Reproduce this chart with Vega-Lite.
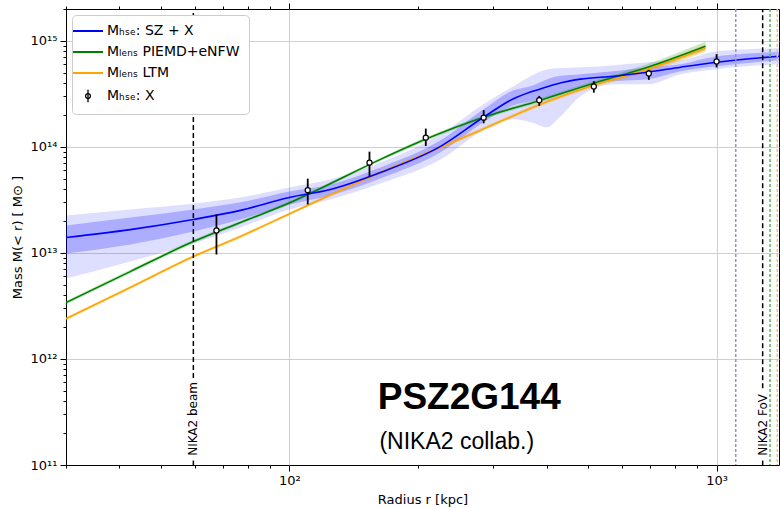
{
  "$schema": "https://vega.github.io/schema/vega-lite/v6.json",
  "width": 713,
  "height": 456,
  "autosize": {"type": "none"},
  "padding": {"left": 66, "top": 9, "right": 1, "bottom": 43},
  "background": "white",
  "config": {
    "view": {"stroke": "black", "strokeWidth": 1},
    "axis": {"labelFont": "DejaVu Sans", "titleFont": "DejaVu Sans", "labelColor": "black", "titleColor": "black", "tickColor": "black", "titleFontWeight": "normal"}
  },
  "datasets": {
    "blue": [
      {"r": 30, "m": 1.40e13, "hi1": 1.82e13, "lo1": 9.87e12, "hi2": 2.26e13, "lo2": 5.73e12},
      {"r": 42.4, "m": 1.66e13, "hi1": 2.16e13, "lo1": 1.20e13, "hi2": 2.57e13, "lo2": 8.30e12},
      {"r": 59.6, "m": 2.07e13, "hi1": 2.57e13, "lo1": 1.59e13, "hi2": 2.93e13, "lo2": 1.23e13},
      {"r": 76.8, "m": 2.52e13, "hi1": 3.00e13, "lo1": 2.07e13, "hi2": 3.34e13, "lo2": 1.74e13},
      {"r": 100, "m": 3.34e13, "hi1": 3.80e13, "lo1": 2.87e13, "hi2": 4.15e13, "lo2": 2.57e13},
      {"r": 124.7, "m": 3.97e13, "hi1": 4.43e13, "lo1": 3.49e13, "hi2": 4.94e13, "lo2": 3.20e13},
      {"r": 163.4, "m": 5.75e13, "hi1": 6.41e13, "lo1": 5.05e13, "hi2": 7.15e13, "lo2": 4.53e13},
      {"r": 225.8, "m": 1.013e14, "hi1": 1.155e14, "lo1": 8.89e13, "hi2": 1.32e14, "lo2": 7.63e13},
      {"r": 284.7, "m": 1.905e14, "hi1": 2.27e14, "lo1": 1.71e14, "hi2": 2.53e14, "lo2": 1.44e14},
      {"r": 334.6, "m": 2.85e14, "hi1": 3.43e14, "lo1": 2.47e14, "hi2": 3.74e14, "lo2": 1.82e14},
      {"r": 366.7, "m": 3.30e14, "hi1": 3.74e14, "lo1": 2.70e14, "hi2": 4.65e14, "lo2": 1.71e14},
      {"r": 402, "m": 3.70e14, "hi1": 4.36e14, "lo1": 2.94e14, "hi2": 5.41e14, "lo2": 1.53e14},
      {"r": 424.3, "m": 3.95e14, "hi1": 4.65e14, "lo1": 3.07e14, "hi2": 5.53e14, "lo2": 1.82e14},
      {"r": 480.2, "m": 4.36e14, "hi1": 4.86e14, "lo1": 3.74e14, "hi2": 5.65e14, "lo2": 3.01e14},
      {"r": 573.9, "m": 4.65e14, "hi1": 5.18e14, "lo1": 4.17e14, "hi2": 5.91e14, "lo2": 3.91e14},
      {"r": 689.3, "m": 5.07e14, "hi1": 5.65e14, "lo1": 4.36e14, "hi2": 6.30e14, "lo2": 3.91e14},
      {"r": 823.6, "m": 5.65e14, "hi1": 6.04e14, "lo1": 5.18e14, "hi2": 6.58e14, "lo2": 4.86e14},
      {"r": 1000, "m": 6.30e14, "hi1": 7.18e14, "lo1": 5.78e14, "hi2": 8.01e14, "lo2": 5.41e14},
      {"r": 1400, "m": 7.18e14, "hi1": 7.84e14, "lo1": 6.58e14, "hi2": 8.55e14, "lo2": 6.04e14}
    ],
    "green": [
      {"r": 30, "m": 3.40e12, "lo": 3.25e12, "hi": 3.55e12},
      {"r": 42.4, "m": 6.67e12, "lo": 6.40e12, "hi": 6.95e12},
      {"r": 59.6, "m": 1.28e13, "lo": 1.23e13, "hi": 1.33e13},
      {"r": 76.8, "m": 1.94e13, "lo": 1.87e13, "hi": 2.01e13},
      {"r": 100.5, "m": 2.99e13, "lo": 2.88e13, "hi": 3.10e13},
      {"r": 118.2, "m": 4.06e13, "lo": 3.92e13, "hi": 4.20e13},
      {"r": 163.4, "m": 7.63e13, "lo": 7.35e13, "hi": 7.90e13},
      {"r": 208.2, "m": 1.18e14, "lo": 1.13e14, "hi": 1.23e14},
      {"r": 284.7, "m": 1.905e14, "lo": 1.83e14, "hi": 1.98e14},
      {"r": 387, "m": 2.76e14, "lo": 2.64e14, "hi": 2.89e14},
      {"r": 507, "m": 3.91e14, "lo": 3.70e14, "hi": 4.12e14},
      {"r": 689, "m": 5.65e14, "lo": 5.25e14, "hi": 6.05e14},
      {"r": 942, "m": 8.93e14, "lo": 8.10e14, "hi": 9.80e14}
    ],
    "orange": [
      {"r": 30, "m": 2.40e12, "lo": 2.32e12, "hi": 2.48e12},
      {"r": 42.4, "m": 4.73e12, "lo": 4.57e12, "hi": 4.89e12},
      {"r": 59.6, "m": 9.25e12, "lo": 8.95e12, "hi": 9.55e12},
      {"r": 76.8, "m": 1.43e13, "lo": 1.38e13, "hi": 1.48e13},
      {"r": 100.5, "m": 2.36e13, "lo": 2.28e13, "hi": 2.44e13},
      {"r": 118.2, "m": 3.20e13, "lo": 3.09e13, "hi": 3.31e13},
      {"r": 163.4, "m": 5.75e13, "lo": 5.55e13, "hi": 5.95e13},
      {"r": 225.8, "m": 9.91e13, "lo": 9.55e13, "hi": 1.027e14},
      {"r": 284.7, "m": 1.48e14, "lo": 1.42e14, "hi": 1.54e14},
      {"r": 387, "m": 2.53e14, "lo": 2.42e14, "hi": 2.64e14},
      {"r": 507, "m": 3.74e14, "lo": 3.55e14, "hi": 3.93e14},
      {"r": 689, "m": 5.41e14, "lo": 5.05e14, "hi": 5.78e14},
      {"r": 942, "m": 8.55e14, "lo": 7.85e14, "hi": 9.30e14}
    ],
    "xray": [
      {"r": 67.5, "m": 1.63e13, "lo": 9.66e12, "hi": 2.31e13},
      {"r": 110.4, "m": 3.91e13, "lo": 2.87e13, "hi": 5.02e13},
      {"r": 154, "m": 7.11e13, "lo": 5.24e13, "hi": 9.03e13},
      {"r": 208.6, "m": 1.224e14, "lo": 1.02e14, "hi": 1.49e14},
      {"r": 285, "m": 1.89e14, "lo": 1.67e14, "hi": 2.22e14},
      {"r": 384.5, "m": 2.76e14, "lo": 2.44e14, "hi": 3.03e14},
      {"r": 516, "m": 3.72e14, "lo": 3.25e14, "hi": 4.17e14},
      {"r": 694, "m": 4.93e14, "lo": 4.29e14, "hi": 5.33e14},
      {"r": 1000, "m": 6.40e14, "lo": 5.62e14, "hi": 7.50e14}
    ],
    "blacklines": [
      {"r": 59.6, "lo": 6.62e11, "hi": 2e15},
      {"r": 59.6, "lo": 1e11, "hi": 1.1e11},
      {"r": 1282, "lo": 5.3e11, "hi": 2e15},
      {"r": 1282, "lo": 1e11, "hi": 1.1e11}
    ],
    "r500": [
      {"r": 1109, "kind": "HSE"},
      {"r": 1334, "kind": "PIEMD+eNFW"},
      {"r": 1387, "kind": "LTM"}
    ],
    "vlabels": [
      {"r": 59.6, "m": 1.22e11, "t": "NIKA2 beam"},
      {"r": 1282, "m": 1.22e11, "t": "NIKA2 FoV"}
    ]
  },
  "resolve": {"axis": {"x": "independent", "y": "independent"}},
  "layer": [
    {
      "data": {"name": "blue"},
      "mark": {"type": "area", "color": "#0000ff", "opacity": 0.13, "interpolate": "monotone", "clip": true},
      "encoding": {
        "x": {"field": "r", "type": "quantitative", "scale": {"type": "log", "domain": [30, 1400], "nice": false},
          "axis": {"orient": "bottom", "title": "Radius r [kpc]", "titleFontSize": 13, "labelFontSize": 13, "titlePadding": 6, "labelPadding": 3,
            "values": [30, 40, 50, 60, 70, 80, 90, 100, 200, 300, 400, 500, 600, 700, 800, 900, 1000],
            "labelExpr": "datum.value == 100 ? '10²' : datum.value == 1000 ? '10³' : ''",
            "labelOverlap": false, "labelFlush": false, "domain": false,
            "tickSize": {"condition": {"test": "datum.value == 100 || datum.value == 1000", "value": 6}, "value": 3},
            "gridColor": "#cfcfcf", "gridWidth": 1,
            "gridOpacity": {"condition": {"test": "datum.value == 100 || datum.value == 1000", "value": 1}, "value": 0}}},
        "y": {"field": "lo2", "type": "quantitative", "scale": {"type": "log", "domain": [1e11, 2e15], "nice": false},
          "axis": {"orient": "left", "title": "Mass M(< r) [ M⊙ ]", "titleFontSize": 13, "labelFontSize": 13, "titlePadding": 6, "labelPadding": 3,
            "values": [2e11, 3e11, 4e11, 5e11, 6e11, 7e11, 8e11, 9e11, 1e11, 1e12, 2e12, 3e12, 4e12, 5e12, 6e12, 7e12, 8e12, 9e12, 1e13, 2e13, 3e13, 4e13, 5e13, 6e13, 7e13, 8e13, 9e13, 1e14, 2e14, 3e14, 4e14, 5e14, 6e14, 7e14, 8e14, 9e14, 1e15, 2e15],
            "labelExpr": "datum.value == 1e11 ? '10¹¹' : datum.value == 1e12 ? '10¹²' : datum.value == 1e13 ? '10¹³' : datum.value == 1e14 ? '10¹⁴' : datum.value == 1e15 ? '10¹⁵' : ''",
            "labelOverlap": false, "labelFlush": false, "domain": false,
            "tickSize": {"condition": {"test": "datum.value == 1e11 || datum.value == 1e12 || datum.value == 1e13 || datum.value == 1e14 || datum.value == 1e15", "value": 6}, "value": 3},
            "gridColor": "#cfcfcf", "gridWidth": 1,
            "gridOpacity": {"condition": {"test": "datum.value == 1e12 || datum.value == 1e13 || datum.value == 1e14 || datum.value == 1e15", "value": 1}, "value": 0}}},
        "y2": {"field": "hi2"}
      }
    },
    {
      "data": {"name": "blue"},
      "mark": {"type": "area", "color": "#0000ff", "opacity": 0.22, "interpolate": "monotone", "clip": true},
      "encoding": {
        "x": {"field": "r", "type": "quantitative", "axis": {"orient": "top", "labels": false, "title": null, "grid": false, "domain": false,
          "values": [30, 40, 50, 60, 70, 80, 90, 100, 200, 300, 400, 500, 600, 700, 800, 900, 1000],
          "tickSize": {"condition": {"test": "datum.value == 100 || datum.value == 1000", "value": 6}, "value": 3}}},
        "y": {"field": "lo1", "type": "quantitative", "axis": null},
        "y2": {"field": "hi1"}
      }
    },
    {
      "data": {"name": "green"},
      "mark": {"type": "area", "color": "#2ca02c", "opacity": 0.25, "interpolate": "monotone", "clip": true},
      "encoding": {
        "x": {"field": "r", "type": "quantitative", "axis": null},
        "y": {"field": "lo", "type": "quantitative", "axis": null},
        "y2": {"field": "hi"}
      }
    },
    {
      "data": {"name": "orange"},
      "mark": {"type": "area", "color": "#ffa500", "opacity": 0.3, "interpolate": "monotone", "clip": true},
      "encoding": {
        "x": {"field": "r", "type": "quantitative", "axis": null},
        "y": {"field": "lo", "type": "quantitative", "axis": null},
        "y2": {"field": "hi"}
      }
    },
    {
      "data": {"name": "orange"},
      "mark": {"type": "line", "strokeWidth": 1.6, "interpolate": "monotone", "clip": true},
      "encoding": {
        "x": {"field": "r", "type": "quantitative", "axis": null},
        "y": {"field": "m", "type": "quantitative", "axis": null},
        "color": {"datum": "Mₗₑₙₛ LTM"}
      }
    },
    {
      "data": {"name": "green"},
      "mark": {"type": "line", "strokeWidth": 1.6, "interpolate": "monotone", "clip": true},
      "encoding": {
        "x": {"field": "r", "type": "quantitative", "axis": null},
        "y": {"field": "m", "type": "quantitative", "axis": null},
        "color": {"datum": "Mₗₑₙₛ PIEMD+eNFW"}
      }
    },
    {
      "data": {"name": "blue"},
      "mark": {"type": "line", "strokeWidth": 1.6, "interpolate": "monotone", "clip": true},
      "encoding": {
        "x": {"field": "r", "type": "quantitative", "axis": null},
        "y": {"field": "m", "type": "quantitative", "axis": null},
        "color": {"datum": "Mₕₛₑ: SZ + X",
          "scale": {"domain": ["Mₕₛₑ: SZ + X", "Mₗₑₙₛ PIEMD+eNFW", "Mₗₑₙₛ LTM", "Mₕₛₑ: X"], "range": ["#0000ff", "#008000", "#ffa500", "#000000"]},
          "legend": {"orient": "top-left", "offset": 6, "title": null, "fillColor": "white", "strokeColor": "#cccccc", "cornerRadius": 4, "padding": 9,
            "labelFont": "DejaVu Sans", "labelFontSize": 14, "labelColor": "black", "symbolSize": 900, "symbolStrokeWidth": 2, "rowPadding": 7, "labelOffset": 12, "labelLimit": 300, "symbolType": "stroke",
            "encode": {"symbols": {"update": {
              "shape": {"signal": "datum.value === 'Mₕₛₑ: X' ? 'M0,-0.42L0,0.42M0.16,0A0.16,0.16 0 1 1 -0.16,0A0.16,0.16 0 1 1 0.16,0Z' : 'stroke'"},
              "fill": {"signal": "datum.value === 'Mₕₛₑ: X' ? 'white' : 'transparent'"},
              "stroke": {"signal": "scale('color', datum.value)"},
              "strokeWidth": {"signal": "datum.value === 'Mₕₛₑ: X' ? 1.3 : 2"},
              "opacity": {"value": 1}
            }}}}
        }
      }
    },
    {
      "data": {"name": "blacklines"},
      "mark": {"type": "rule", "color": "black", "strokeWidth": 1.5, "strokeDash": [5, 3]},
      "encoding": {
        "x": {"field": "r", "type": "quantitative", "axis": null},
        "y": {"field": "lo", "type": "quantitative", "axis": null},
        "y2": {"field": "hi"}
      }
    },
    {
      "data": {"name": "r500"},
      "mark": {"type": "rule", "strokeWidth": 1.5, "strokeDash": [3, 2]},
      "encoding": {
        "x": {"field": "r", "type": "quantitative", "axis": null},
        "stroke": {"field": "kind", "type": "nominal", "scale": {"domain": ["HSE", "PIEMD+eNFW", "LTM"], "range": ["#9494cc", "#5cb85c", "#f5c27a"]}, "legend": null}
      }
    },
    {
      "data": {"name": "xray"},
      "mark": {"type": "rule", "color": "black", "strokeWidth": 1.8},
      "encoding": {
        "x": {"field": "r", "type": "quantitative", "axis": null},
        "y": {"field": "lo", "type": "quantitative", "axis": null},
        "y2": {"field": "hi"}
      }
    },
    {
      "data": {"name": "xray"},
      "mark": {"type": "point", "shape": "circle", "filled": false, "fill": "white", "size": 26, "strokeWidth": 1.2, "opacity": 1},
      "encoding": {
        "x": {"field": "r", "type": "quantitative", "axis": null},
        "y": {"field": "m", "type": "quantitative", "axis": null},
        "color": {"datum": "Mₕₛₑ: X"}
      }
    },
    {
      "data": {"name": "vlabels"},
      "mark": {"type": "text", "angle": 270, "align": "left", "baseline": "middle", "font": "DejaVu Sans", "fontSize": 12, "color": "black"},
      "encoding": {
        "x": {"field": "r", "type": "quantitative", "axis": null},
        "y": {"field": "m", "type": "quantitative", "axis": null},
        "text": {"field": "t"}
      }
    },
    {
      "data": {"values": [{"r": 161, "m": 3.38e11, "t": "PSZ2G144"}]},
      "mark": {"type": "text", "align": "left", "baseline": "alphabetic", "font": "Liberation Sans", "fontSize": 37, "fontWeight": "bold", "color": "black"},
      "encoding": {
        "x": {"field": "r", "type": "quantitative", "axis": null},
        "y": {"field": "m", "type": "quantitative", "axis": null},
        "text": {"field": "t"}
      }
    },
    {
      "data": {"values": [{"r": 162.5, "m": 1.42e11, "t": "(NIKA2 collab.)"}]},
      "mark": {"type": "text", "align": "left", "baseline": "alphabetic", "font": "Liberation Sans", "fontSize": 23, "color": "black"},
      "encoding": {
        "x": {"field": "r", "type": "quantitative", "axis": null},
        "y": {"field": "m", "type": "quantitative", "axis": null},
        "text": {"field": "t"}
      }
    }
  ]
}
